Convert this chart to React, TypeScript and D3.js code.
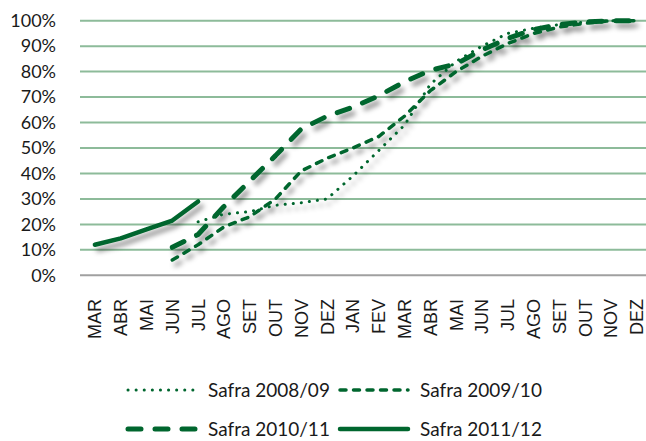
import React, { useEffect, useRef } from "react";
import * as d3 from "d3";

const months: string[] = ["MAR", "ABR", "MAI", "JUN", "JUL", "AGO", "SET", "OUT", "NOV", "DEZ", "JAN", "FEV",
  "MAR", "ABR", "MAI", "JUN", "JUL", "AGO", "SET", "OUT", "NOV", "DEZ"];

// percent of harvest sold, null where the series has no value
const safra0809: (number | null)[] = [null, null, null, null, 21, 24, 25, 27.5, 28.5, 30, 39, 49, 59, 75, 84, 90, 95, 97, 98.5, 99.5, 100, 100];
const safra0910: (number | null)[] = [null, null, null, 6, 12, 19, 23, 30, 41, 46, 50, 54.5, 62.5, 72.5, 80, 86, 91, 95, 97.5, 99, 100, 100];
const safra1011: (number | null)[] = [null, null, null, 11, 16, 27, 37, 47, 57.5, 62.5, 66, 70.5, 76, 80.5, 83, 88.5, 93, 96.5, 98.5, 99.5, 100, 100];
const safra1112: (number | null)[] = [12, 14.5, 18, 21.5, 29, null, null, null, null, null, null, null, null, null, null, null, null, null, null, null, null, null];

const yTicks: number[] = [0, 10, 20, 30, 40, 50, 60, 70, 80, 90, 100];

const seriesNames: string[] = ["Safra 2008/09", "Safra 2009/10", "Safra 2010/11", "Safra 2011/12"];

const green = "#00662E";

interface LineStyle {
  width: number;
  dash: string | null;
}

const styles: LineStyle[] = [
  { width: 3, dash: "0.1,8" },
  { width: 3.5, dash: "6,7.5" },
  { width: 5, dash: "13,14" },
  { width: 4.5, dash: null },
];

function Chart() {
  const ref = useRef<SVGSVGElement | null>(null);

  useEffect(() => {
    const svg = d3.select(ref.current);
    svg.selectAll("*").remove();

    const left = 82, right = 649.6, top = 20.7, bottom = 275.3;
    const gridLeft = 80, gridRight = 660;

    const x = d3.scaleBand<number>()
      .domain(months.map((_, i) => i))
      .range([left, right])
      .padding(0);
    const y = d3.scaleLinear().domain([0, 100]).range([bottom, top]);
    const cx = (i: number) => (x(i) as number) + x.bandwidth() / 2;

    // shadow
    const defs = svg.append("defs");
    const f = defs.append("filter").attr("id", "shadow")
      .attr("x", "-10%").attr("y", "-10%").attr("width", "130%").attr("height", "140%");
    f.append("feDropShadow")
      .attr("dx", 3.5).attr("dy", 5).attr("stdDeviation", 2.5)
      .attr("flood-color", "#000").attr("flood-opacity", 0.42);

    // grid
    svg.append("g").selectAll("line")
      .data(yTicks.filter(t => t > 0))
      .enter()
      .append("line")
      .attr("x1", gridLeft).attr("x2", gridRight)
      .attr("y1", d => y(d)).attr("y2", d => y(d))
      .attr("stroke", "#8DBB9A")
      .attr("stroke-width", 2);

    svg.append("line")
      .attr("x1", gridLeft).attr("x2", gridRight)
      .attr("y1", y(0)).attr("y2", y(0))
      .attr("stroke", "#A0A0A0")
      .attr("stroke-width", 2);

    // y labels
    svg.append("g").selectAll("text")
      .data(yTicks)
      .enter()
      .append("text")
      .attr("x", 56)
      .attr("y", d => y(d))
      .attr("dy", "0.35em")
      .attr("text-anchor", "end")
      .attr("font-family", "Lato, sans-serif")
      .attr("font-size", 18)
      .attr("fill", "#1a1a1a")
      .text(d => d + "%");

    // x labels
    svg.append("g").selectAll("text")
      .data(months)
      .enter()
      .append("text")
      .attr("transform", (_, i) => `translate(${cx(i)}, 299) rotate(-90)`)
      .attr("dy", "0.36em")
      .attr("text-anchor", "end")
      .attr("font-family", "'Liberation Sans', Arial, sans-serif")
      .attr("font-size", 18)
      .attr("fill", "#1a1a1a")
      .text(d => d);

    // lines
    const line = d3.line<number | null>()
      .defined(d => d !== null)
      .x((_, i) => cx(i))
      .y(d => y(d as number));

    const all = [safra0809, safra0910, safra1011, safra1112];
    const lines = svg.append("g").attr("filter", "url(#shadow)");
    all.forEach((vals, k) => {
      lines.append("path")
        .attr("d", line(vals))
        .attr("fill", "none")
        .attr("stroke", green)
        .attr("stroke-width", styles[k].width)
        .attr("stroke-dasharray", styles[k].dash)
        .attr("stroke-linecap", "round")
        .attr("stroke-linejoin", "round");
    });

    // legend
    const legendPos = [
      { lx: 128, ly: 390 },
      { lx: 340, ly: 390 },
      { lx: 128, ly: 429 },
      { lx: 340, ly: 429 },
    ];
    const legend = svg.append("g");
    seriesNames.forEach((name, k) => {
      const p = legendPos[k];
      legend.append("line")
        .attr("x1", p.lx).attr("x2", p.lx + 68)
        .attr("y1", p.ly).attr("y2", p.ly)
        .attr("stroke", green)
        .attr("stroke-width", styles[k].width)
        .attr("stroke-dasharray", styles[k].dash)
        .attr("stroke-linecap", "round");
      legend.append("text")
        .attr("x", p.lx + 80)
        .attr("y", p.ly)
        .attr("dy", "0.35em")
        .attr("font-family", "Lato, sans-serif")
        .attr("font-size", 19)
        .attr("fill", "#1a1a1a")
        .text(name);
    });
  }, []);

  return <svg ref={ref} width={646} height={441} style={{ display: "block" }} />;
}

export default function App() {
  return (
    <div style={{ position: "absolute", left: 0, top: 0, width: 646, height: 441, background: "#fff" }}>
      <Chart />
    </div>
  );
}
